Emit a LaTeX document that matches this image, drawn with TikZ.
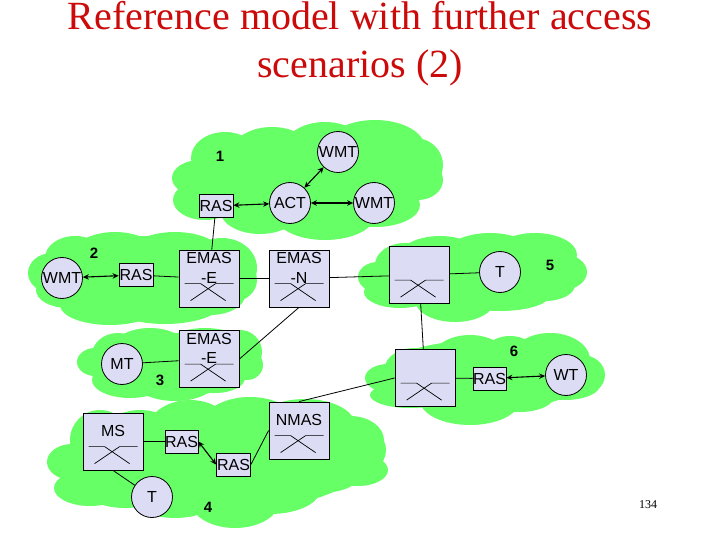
\documentclass[tikz,border=0pt]{standalone}
\usepackage{fontspec}
\setmainfont{Liberation Sans}
\newfontfamily\serifface{Liberation Serif}
\usetikzlibrary{arrows.meta,calc}
\definecolor{cloudgreen}{HTML}{66FF66}
\definecolor{nodefill}{HTML}{DCDCF4}
\definecolor{titlered}{HTML}{CC0A0A}
\tikzset{
  lobe/.style={fill=cloudgreen,draw=none},
  term/.style={circle,draw=black,line width=0.8pt,fill=nodefill,minimum size=41pt,inner sep=0pt,font=\fontsize{16}{18}\selectfont},
  ras/.style={rectangle,draw=black,line width=0.8pt,fill=nodefill,minimum height=23pt,inner sep=0pt,font=\fontsize{16}{18}\selectfont},
  sw/.style={rectangle,draw=black,line width=0.8pt,fill=nodefill,minimum width=60pt,minimum height=57pt,inner sep=0pt},
  swtext/.style={align=center,inner sep=0pt,font=\fontsize{16}{19.5}\selectfont},
  num/.style={inner sep=0pt,font=\bfseries\fontsize{15}{18}\selectfont},
  link/.style={draw=black,line width=0.8pt},
  dbl/.style={draw=black,line width=1.1pt,{Stealth[length=6pt,width=5.5pt]}-{Stealth[length=6pt,width=5.5pt]}},
  xsym/.style={draw=black,line width=0.7pt}
}
\newcommand{\lobes}[1]{\foreach \cx/\cy/\rx/\ry in {#1} {\fill[lobe] (\cx,\cy) ellipse [x radius=\rx, y radius=\ry];}}
\newcommand{\swbox}[4]{%
  \node[sw] (#1) at (#2,#3) {};
  \draw[xsym] ($(#1.north west)+(6,34)$) -- ++(16,0) -- ++(25,17);
  \draw[xsym] ($(#1.north west)+(55,34)$) -- ++(-18,0) -- ++(-25,17);
  \node[swtext] (#1t) at ($(#1.center)+(0,-10.5)$) {#4};
}
\begin{document}
\begin{tikzpicture}[x=1pt,y=-1pt]
\useasboundingbox (0,0) rectangle (720,540);
\fill[white] (0,0) rectangle (720,540);
% clouds
\lobes{300/180/105/45,200/178/28/18,205/200/32/20,225/158/34/26,272/155/42/28,325/150/42/28,375/148/50/28,415/165/28/27,418/180/25/20,375/205/45/22,325/215/50/25,260/210/40/24}
\lobes{140/278/100/42,52/273/24/20,75/258/30/22,68/290/32/18,115/258/45/26,175/258/50/26,222/268/35/30,232/280/25/22,110/305/50/20,165/300/60/24,210/295/35/20}
\lobes{170/365/82/32,95/362/18/14,118/355/26/22,150/352/40/24,205/352/45/24,240/352/22/22,247/365/16/15,130/380/38/18,175/382/40/19,215/378/30/15}
\lobes{215/460/150/52,72/462/25/18,100/440/30/30,90/488/36/18,140/440/40/30,190/435/45/35,250/428/50/31,305/425/50/26,350/440/34/24,360/450/26/24,358/470/30/16,320/475/40/18,270/490/50/24,235/500/45/28,175/490/50/28,125/490/40/18}
\lobes{470/275/100/35,378/277/20/15,405/265/30/22,400/292/36/16,440/262/45/26,490/255/45/22,535/255/42/22,562/272/25/18,545/285/30/16,500/295/50/16,455/300/40/22}
\lobes{485/375/105/35,388/378/23/14,415/368/30/20,410/395/40/13,470/362/40/27,510/360/30/24,550/360/40/27,582/375/23/20,565/385/35/15,520/395/35/17,470/400/50/25}
% nodes
\node[term] (wmtA) at (338,152) {WMT};
\node[term] (act) at (290,203) {ACT};
\node[term] (wmtB) at (374,203) {WMT};
\node[ras,minimum width=34pt] (rasA) at (216,206) {RAS};
\node[term] (wmtC) at (62,278) {WMT};
\node[ras,minimum width=34pt] (rasB) at (136,275) {RAS};
\swbox{emasEa}{209}{278.5}{EMAS\\-E}
\swbox{emasN}{299}{278.5}{EMAS\\-N}
\swbox{swFive}{419}{275}{}
\node[term] (tA) at (500,272) {T};
\swbox{emasEb}{209}{359}{EMAS\\-E}
\node[term] (mt) at (122,364) {MT};
\swbox{swSix}{425}{378}{}
\node[ras,minimum width=33pt] (rasC) at (489.5,378.5) {RAS};
\node[term] (wt) at (566,375) {WT};
\swbox{ms}{113}{441.5}{MS}
\node[ras,minimum width=33pt] (rasD) at (181.5,441.5) {RAS};
\node[ras,minimum width=34pt] (rasE) at (233.5,464.5) {RAS};
\swbox{nmas}{299}{430.5}{NMAS}
\node[term] (tB) at (152,497) {T};
% connectors
\draw[dbl] (act) -- (wmtA);
\draw[dbl] (act) -- (wmtB);
\draw[dbl] (rasA) -- (act);
\draw[dbl] (wmtC) -- (rasB);
\draw[dbl] (rasC) -- (wt);
\draw[dbl] (rasD.east) -- (rasE.west);
\draw[link] (rasA) -- (emasEa);
\draw[link] (rasB) -- (emasEa);
\draw[link] (emasEa) -- (emasN);
\draw[link] (emasN) -- (swFive);
\draw[link] (swFive) -- (tA);
\draw[link] (swFive) -- (swSix);
\draw[link] (swSix) -- (rasC);
\draw[link] (swSix.west) -- (nmas.north);
\draw[link] (emasN.south) -- (emasEb.east);
\draw[link] (mt) -- (emasEb);
\draw[link] (ms) -- (rasD);
\draw[link] (ms.south) -- (tB);
\draw[link] (rasE.east) -- (nmas.west);
% numbers
\node[num] (nOne) at (220,156) {1};
\node[num] (nTwo) at (94,253) {2};
\node[num] (nThree) at (160,380) {3};
\node[num] (nFour) at (208,507) {4};
\node[num] (nFive) at (550,265) {5};
\node[num] (nSix) at (514,351) {6};
% title
\node[align=center,inner sep=0pt,text=titlered,font=\serifface\fontsize{40}{48}\selectfont] (title) at (360,44) {Reference model with further access\\scenarios (2)};
\node[inner sep=0pt,font=\serifface\fontsize{12}{14}\selectfont] (page) at (648,505) {134};
\end{tikzpicture}
\end{document}
